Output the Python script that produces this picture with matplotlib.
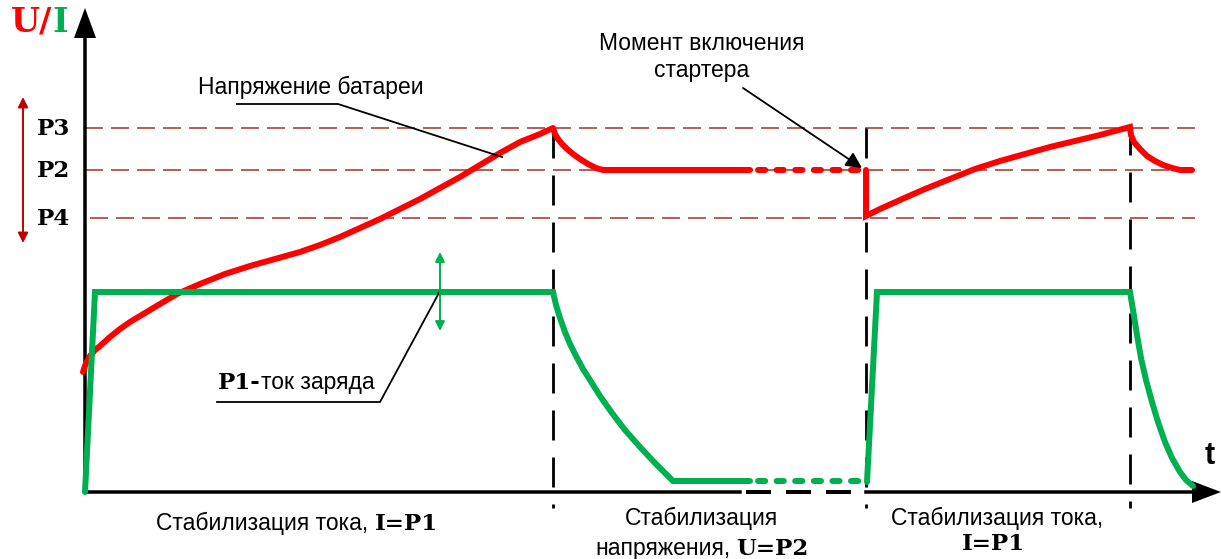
import matplotlib.pyplot as plt

# everything is drawn in pixel units of the 1221x559 picture (y grows downwards)
PX = 0.72  # points per pixel at dpi=100

# voltage levels
level_names = ['P3', 'P2', 'P4']
level_y = [128, 170, 218]
level_x0 = [85, 85, 90]

# phase boundaries (vertical dashed lines)
phase_x = [553, 866, 1130]
phase_top = [128, 128, 125]

# battery voltage (red)
red_x1 = [83, 86, 90, 95, 100, 110, 120, 130, 145, 160, 177, 200, 225, 250, 275, 300, 320, 340,
          360, 380, 400, 420, 440, 460, 480, 500, 520, 540, 553,
          555, 558, 562, 567, 573, 580, 588, 596, 603, 750]
red_y1 = [372, 363, 356, 350, 346, 337, 329, 322, 313, 304, 294, 284, 274, 266, 259, 252, 245, 237,
          228, 219, 209, 199, 188, 177, 165, 153, 142, 134, 128,
          134, 139, 144, 149, 154, 159, 164, 168, 170, 170]
red_dot_x = [758, 862]
red_dot_y = [170, 170]
red_x2 = [866, 866, 880, 900, 925, 950, 975, 1000, 1025, 1050, 1075, 1100, 1115, 1130,
          1131, 1134, 1140, 1147, 1155, 1163, 1172, 1180, 1192]
red_y2 = [170, 216, 209, 200, 189, 179, 169, 161, 154, 147, 141, 135, 131, 127,
          135, 142, 149, 156, 161, 165, 168, 170, 170]

# charging current (green)
green_x1 = [85, 95, 553, 556, 560, 565, 570, 576, 583, 590, 600, 612, 625, 640, 655, 665, 673, 750]
green_y1 = [492, 292, 292, 305, 318, 332, 344, 356, 369, 380, 396, 413, 430, 447, 463, 473, 481, 481]
green_dot_x = [758, 860]
green_dot_y = [481, 481]
green_x2 = [867, 877, 1130, 1133, 1137, 1141, 1146, 1152, 1158, 1165, 1172, 1180, 1186, 1193]
green_y2 = [482, 292, 292, 310, 335, 358, 380, 402, 422, 442, 458, 472, 480, 486]

RED = '#ff0000'
GREEN = '#00b050'
BROWN = '#a9473f'

SANS = dict(family='Liberation Sans', fontsize=16.5)
BOLD = dict(family='DejaVu Serif', fontweight='bold', fontsize=16.5)

fig = plt.figure(figsize=(12.21, 5.59), dpi=100)
ax = fig.add_axes([0, 0, 1, 1])
ax.set_xlim(0, 1221)
ax.set_ylim(559, 0)
ax.axis('off')

# level lines + labels
for name, y, x0 in zip(level_names, level_y, level_x0):
    ax.plot([x0, 1195], [y, y], color=BROWN, lw=1.7 * PX, dashes=(18 / 1.7, 8 / 1.7))
    ax.text(70, y + 1, name, ha='right', va='center', **BOLD)

# phase boundaries
for x, top in zip(phase_x, phase_top):
    ax.plot([x, x], [top, 508], color='black', lw=2.8 * PX, dashes=(30 / 2.8, 17 / 2.8))

# axes
ax.plot([85, 85], [494, 35], color='black', lw=3.5 * PX, solid_capstyle='butt')
ax.fill([74, 96, 85], [38, 38, 8], color='black', lw=0)
ax.plot([85, 740], [492, 492], color='black', lw=3.5 * PX)
ax.plot([746, 860], [492, 492], color='black', lw=4 * PX, dashes=(25 / 4, 15 / 4))
ax.plot([866, 1195], [492, 492], color='black', lw=3.5 * PX)
ax.fill([1192, 1192, 1221], [481, 503, 492], color='black', lw=0)

# curves
lw = 6 * PX
ax.plot(red_x1, red_y1, color=RED, lw=lw, solid_capstyle='round', solid_joinstyle='round')
ax.plot(red_dot_x, red_dot_y, color=RED, lw=lw, dashes=(1.2, 1.9), dash_capstyle='round')
ax.plot(red_x2, red_y2, color=RED, lw=lw, solid_capstyle='round', solid_joinstyle='miter')
ax.plot(green_x1, green_y1, color=GREEN, lw=lw, solid_capstyle='round', solid_joinstyle='miter')
ax.plot(green_dot_x, green_dot_y, color=GREEN, lw=lw, dashes=(1.2, 1.9), dash_capstyle='round')
ax.plot(green_x2, green_y2, color=GREEN, lw=lw, solid_capstyle='round', solid_joinstyle='miter')

# double arrows
ax.annotate('', xy=(23, 97), xytext=(23, 243),
            arrowprops=dict(arrowstyle='<|-|>', color='#c00000', lw=1.4, mutation_scale=15,
                            shrinkA=0, shrinkB=0))
ax.annotate('', xy=(440, 252), xytext=(440, 331),
            arrowprops=dict(arrowstyle='<|-|>', color=GREEN, lw=1.4, mutation_scale=14,
                            shrinkA=0, shrinkB=0))

# leaders / callouts
ax.plot([237, 338, 502], [104, 104, 157], color='black', lw=1.3)
ax.text(311, 87, 'Напряжение батареи', ha='center', va='center', **SANS)

ax.annotate('', xy=(862, 168), xytext=(743, 88),
            arrowprops=dict(arrowstyle='-|>', color='black', lw=1.3, mutation_scale=24,
                            shrinkA=0, shrinkB=0))
ax.text(702, 43, 'Момент включения', ha='center', va='center', **SANS)
ax.text(702, 71, 'стартера', ha='center', va='center', **SANS)

ax.plot([217, 380, 440], [402, 402, 291], color='black', lw=1.3)


def rich_text(x, y, parts, gaps, ha='center'):
    r = fig.canvas.get_renderer()
    texts = [ax.text(0, y, s, ha='left', va='baseline', **kw) for s, kw in parts]
    widths = [t.get_window_extent(r).width for t in texts]
    total = sum(widths) + sum(gaps)
    cur = x - total / 2 if ha == 'center' else x
    for i, (t, w) in enumerate(zip(texts, widths)):
        t.set_x(cur)
        cur += w + (gaps[i] if i < len(gaps) else 0)


rich_text(218, 389, [('P1-', BOLD), ('ток заряда', SANS)], [0], ha='left')

# top-left axis title and t
rich_text(11, 32, [('U/', dict(BOLD, fontsize=24, color=RED)),
                   ('I', dict(BOLD, fontsize=24, color=GREEN))], [0], ha='left')
ax.text(1210, 456, 't', ha='center', va='center', family='Liberation Sans',
        fontweight='bold', fontsize=22)

# phase captions
rich_text(297, 530, [('Стабилизация тока,', SANS), ('I=P1', BOLD)], [6])
ax.text(701, 518, 'Стабилизация', ha='center', va='center', **SANS)
rich_text(702, 555, [('напряжения,', SANS), ('U=P2', BOLD)], [6])
ax.text(997, 518, 'Стабилизация тока,', ha='center', va='center', **SANS)
rich_text(993, 550, [('I=P1', BOLD)], [])

fig.savefig('out.png', dpi=100)
